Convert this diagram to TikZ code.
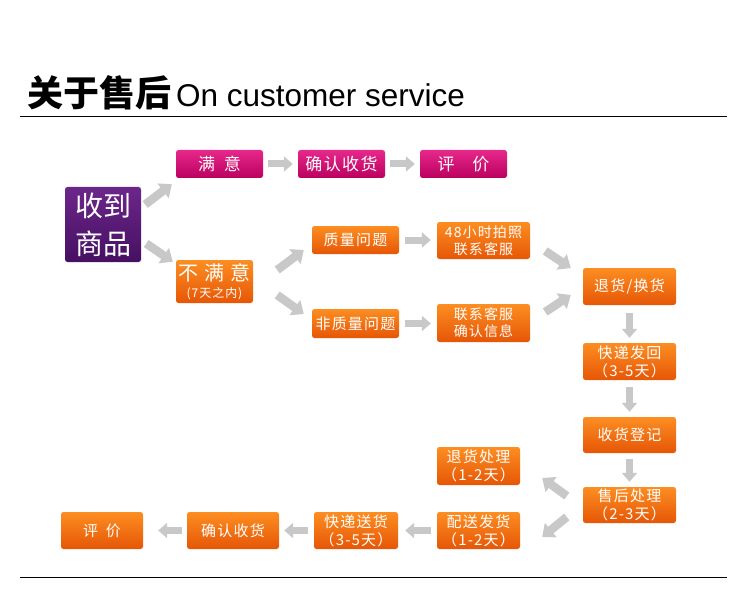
\documentclass[tikz,border=0pt]{standalone}
\usepackage{fontspec}
\setmainfont{Liberation Sans}
\newfontfamily\cjk[LetterSpace=8]{Noto Sans CJK SC}
\newfontfamily\cjktitle{Noto Sans CJK SC}
\usetikzlibrary{arrows.meta,calc}
\definecolor{orangeTop}{RGB}{252,142,34}
\definecolor{orangeBot}{RGB}{230,86,6}
\definecolor{pinkTop}{RGB}{230,40,138}
\definecolor{pinkBot}{RGB}{186,0,96}
\definecolor{purpTop}{RGB}{108,38,138}
\definecolor{purpBot}{RGB}{70,16,98}
\definecolor{arrowGray}{RGB}{200,200,200}

\begin{document}
\begin{tikzpicture}[x=1pt,y=-1pt,
    sz/.style 2 args={minimum width=#1pt,minimum height=#2pt},
    box/.style={rounded corners=2.5pt,text=white,align=center,inner sep=0pt,
      font=\cjk\fontsize{15}{18}\selectfont},
    obox/.style={box,top color=orangeTop,bottom color=orangeBot},
    pbox/.style={box,top color=pinkTop,bottom color=pinkBot,sz={87}{28},
      font=\cjk\fontsize{17}{19}\selectfont},
    blk/.style={draw=arrowGray,line width=7pt,-{Triangle[width=15pt,length=9pt]}},
    bigblk/.style={draw=arrowGray,line width=8.5pt,-{Triangle[width=18pt,length=11pt]}}]
  \useasboundingbox (0,0) rectangle (750,607);
  \def\header{
    \node [anchor=base west,inner sep=0pt] (title) at (27,107)
      {{\cjktitle\bfseries\fontsize{36}{40}\selectfont 关于售后}\hspace{5pt}{\fontsize{31.5}{34}\selectfont On customer service}};
    \draw [line width=1pt] (20,117) -- (727,117);
    \draw [line width=1pt] (20,577) -- (727,577);
  }
  \def\upperBoxes{
    \node [box,sz={76}{75},top color=purpTop,bottom color=purpBot,
      font=\cjktitle\fontsize{28}{38}\selectfont] (recv) at (103,224.5) {收到\\商品};
    \node [pbox] (sat) at (219.5,164) {满\hspace{9pt}意};
    \node [pbox] (conf1) at (341.5,164) {确认收货};
    \node [pbox] (rev1) at (463.5,164) {评\hspace{18pt}价};
    \node [obox,sz={77}{43}] (unsat) at (214.5,281.5)
      {{\fontsize{20}{22}\selectfont 不\hspace{6pt}满\hspace{6pt}意}\\[-1pt]{\fontsize{12}{13}\selectfont (7天之内)}};
    \node [obox,sz={87}{28}] (qual) at (355.5,240) {质量问题};
    \node [obox,sz={87}{29}] (nonq) at (355.5,323.5) {非质量问题};
    \node [obox,sz={93}{37},font=\cjk\fontsize{14}{17}\selectfont] (photo) at (483.5,240.5) {48小时拍照\\联系客服};
    \node [obox,sz={93}{38},font=\cjk\fontsize{14}{17}\selectfont] (contact) at (483.5,323) {联系客服\\确认信息};
  }
  \def\rightColumn{
    \node [obox,sz={93}{37}] (ret) at (629.5,286.5) {退货/换货};
    \node [obox,sz={93}{37}] (back) at (629.5,361.5) {快递发回\\（3-5天）};
    \node [obox,sz={93}{36}] (reg) at (629.5,435) {收货登记};
    \node [obox,sz={93}{36}] (handle) at (629.5,505) {售后处理\\（2-3天）};
  }
  \def\lowerBoxes{
    \node [obox,sz={83}{38}] (refund) at (478.5,466) {退货处理\\（1-2天）};
    \node [obox,sz={83}{37}] (disp) at (478.5,530.5) {配送发货\\（1-2天）};
    \node [obox,sz={84}{37}] (expr) at (356,530.5) {快递送货\\（3-5天）};
    \node [obox,sz={92}{37}] (conf2) at (233,530.5) {确认收货};
    \node [obox,sz={82}{37}] (rev2) at (102,530.5) {评\hspace{8pt}价};
  }
  \def\showArrows{
    % Draw branching arrows
    \draw [bigblk] ($(recv.east)+(4,-20)$) -- ($(sat.south west)+(-4,6)$);
    \draw [bigblk] ($(recv.east)+(5,19)$) -- ($(unsat.north west)+(-3,2)$);
    \draw [bigblk] ($(unsat.east)+(24,-11.5)$) -- ($(qual.west)+(-8,10)$);
    \draw [bigblk] ($(unsat.east)+(24,13.5)$) -- ($(nonq.west)+(-8,-9.5)$);
    \draw [bigblk] ($(photo.east)+(15,10.5)$) -- ($(ret.west)+(-12,-18.5)$);
    \draw [bigblk] ($(contact.east)+(15,-11)$) -- ($(ret.west)+(-12,8.5)$);
    \draw [bigblk] ($(handle.west)+(-16,-9)$) -- ($(refund.east)+(22,12)$);
    \draw [bigblk] ($(handle.west)+(-16,12)$) -- ($(disp.east)+(22,6.5)$);
    % Draw straight arrows
    \draw [blk] ($(sat.east)+(5,0)$) -- ($(conf1.west)+(-5,0)$);
    \draw [blk] ($(conf1.east)+(5,0)$) -- ($(rev1.west)+(-5,0)$);
    \draw [blk] ($(qual.east)+(6,0)$) -- ($(qual.east -| photo.west)+(-6,0)$);
    \draw [blk] ($(nonq.east)+(6,0)$) -- ($(nonq.east -| contact.west)+(-6,0)$);
    \draw [blk] ($(ret.south)+(0,8)$) -- ($(back.north)+(0,-5)$);
    \draw [blk] ($(back.south)+(0,7)$) -- ($(reg.north)+(0,-5)$);
    \draw [blk] ($(reg.south)+(0,6)$) -- ($(handle.north)+(0,-5)$);
    \draw [blk] ($(disp.west)+(-6,0)$) -- ($(expr.east)+(7,0)$);
    \draw [blk] ($(expr.west)+(-6,0)$) -- ($(conf2.east)+(5,0)$);
    \draw [blk] ($(conf2.west)+(-5,0)$) -- ($(rev2.east)+(15,0)$);
  }
  \header
  \upperBoxes
  \rightColumn
  \lowerBoxes
  \showArrows
\end{tikzpicture}
\end{document}
